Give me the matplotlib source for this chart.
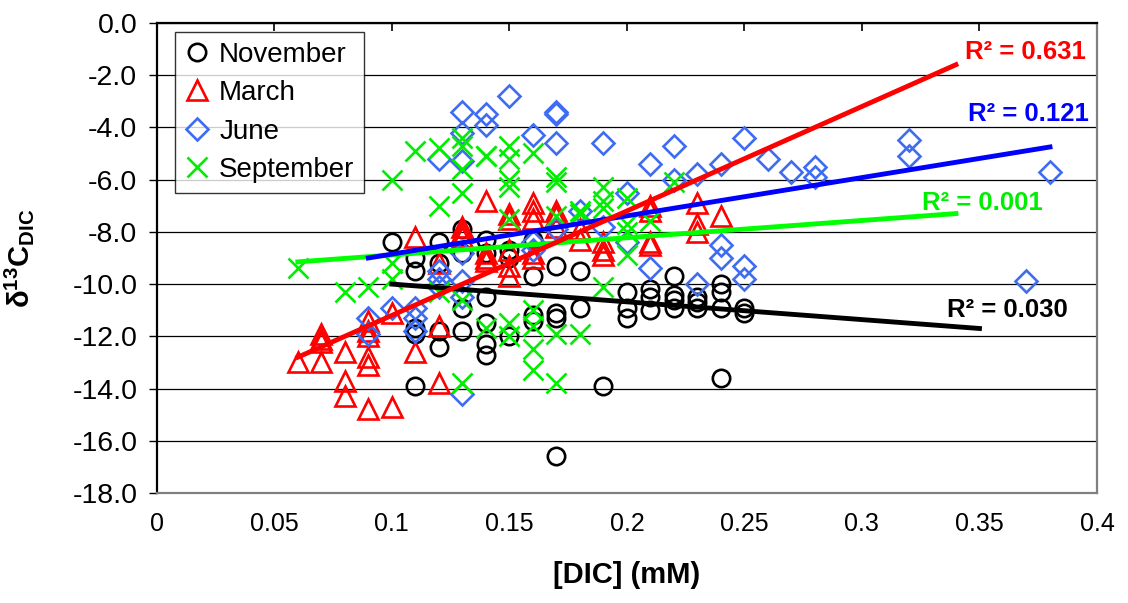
import numpy as np
import matplotlib.pyplot as plt

plt.rcParams['font.family'] = ['Liberation Sans', 'DejaVu Sans']
plt.rcParams['mathtext.fontset'] = 'custom'
plt.rcParams['mathtext.rm'] = 'Liberation Sans'
plt.rcParams['mathtext.bf'] = 'Liberation Sans:bold'

# données
nov_x = [0.10,
         0.11, 0.11, 0.11, 0.11, 0.11,
         0.12, 0.12, 0.12, 0.12,
         0.13, 0.13, 0.13, 0.13,
         0.14, 0.14, 0.14, 0.14, 0.14, 0.14,
         0.15, 0.15, 0.15,
         0.16, 0.16, 0.16, 0.16,
         0.17, 0.17, 0.17, 0.17,
         0.18, 0.18,
         0.19,
         0.20, 0.20, 0.20,
         0.21, 0.21, 0.21,
         0.22, 0.22, 0.22, 0.22,
         0.23, 0.23, 0.23,
         0.24, 0.24, 0.24, 0.24,
         0.25, 0.25]
nov_y = [-8.4,
         -9.0, -9.5, -11.7, -11.9, -13.9,
         -8.4, -9.2, -11.8, -12.4,
         -7.9, -8.8, -10.9, -11.8,
         -8.3, -8.8, -10.5, -11.5, -12.3, -12.7,
         -8.7, -9.0, -12.0,
         -8.3, -9.7, -11.2, -11.4,
         -9.3, -11.1, -11.3, -16.6,
         -9.5, -10.9,
         -13.9,
         -10.3, -10.9, -11.3,
         -10.2, -10.5, -11.0,
         -9.7, -10.4, -10.6, -10.9,
         -10.5, -10.7, -10.9,
         -10.0, -10.3, -10.9, -13.6,
         -10.9, -11.1]

mar_x = [0.06,
         0.07, 0.07, 0.07, 0.07,
         0.08, 0.08, 0.08,
         0.09, 0.09, 0.09, 0.09, 0.09, 0.09,
         0.10, 0.10,
         0.11, 0.11,
         0.12, 0.12, 0.12,
         0.13, 0.13, 0.13,
         0.14, 0.14, 0.14, 0.14,
         0.15, 0.15, 0.15, 0.15, 0.15,
         0.16, 0.16, 0.16, 0.16, 0.16,
         0.17, 0.17, 0.17,
         0.18, 0.18,
         0.19, 0.19, 0.19,
         0.21, 0.21, 0.21, 0.21,
         0.23, 0.23, 0.23,
         0.24]
mar_y = [-13.0,
         -11.9, -12.1, -12.2, -13.0,
         -12.6, -13.7, -14.3,
         -11.4, -11.8, -12.0, -12.8, -13.1, -14.8,
         -11.1, -14.7,
         -8.2, -12.6,
         -9.2, -11.6, -13.8,
         -7.8, -8.0, -8.2,
         -6.8, -8.8, -9.0, -9.1,
         -7.3, -7.5, -8.7, -9.3, -9.7,
         -6.9, -7.2, -7.5, -8.8, -9.0,
         -7.2, -7.4, -7.8,
         -7.9, -8.3,
         -8.4, -8.7, -8.9,
         -7.0, -7.2, -8.4, -8.5,
         -6.9, -7.7, -8.0,
         -7.4]

jun_x = [0.09, 0.09,
         0.10,
         0.11, 0.11, 0.11,
         0.12, 0.12, 0.12, 0.12,
         0.13, 0.13, 0.13, 0.13, 0.13, 0.13, 0.13,
         0.14, 0.14,
         0.15,
         0.16, 0.16, 0.16,
         0.17, 0.17, 0.17, 0.17,
         0.18,
         0.19, 0.19,
         0.20, 0.20,
         0.21, 0.21,
         0.22, 0.22,
         0.23, 0.23,
         0.24, 0.24, 0.24,
         0.25, 0.25, 0.25,
         0.26, 0.27, 0.28, 0.28,
         0.32, 0.32, 0.37, 0.38]
jun_y = [-11.3, -11.9,
         -10.9,
         -10.9, -11.3, -11.8,
         -5.2, -9.5, -9.8, -10.1,
         -3.4, -4.2, -5.3, -8.8, -9.9, -10.5, -14.2,
         -3.5, -3.9,
         -2.8,
         -4.3, -8.4, -8.7,
         -3.4, -3.5, -4.6, -7.9,
         -7.2,
         -4.6, -7.8,
         -6.5, -8.4,
         -5.4, -9.4,
         -4.7, -6.0,
         -5.8, -10.0,
         -5.4, -8.5, -9.0,
         -4.4, -9.3, -9.8,
         -5.2, -5.7, -5.5, -5.9,
         -4.5, -5.1, -9.9, -5.7]

sep_x = [0.06, 0.08, 0.09,
         0.10, 0.10, 0.10,
         0.11,
         0.12, 0.12, 0.12,
         0.13, 0.13, 0.13, 0.13, 0.13, 0.13,
         0.14, 0.14, 0.14,
         0.15, 0.15, 0.15, 0.15, 0.15, 0.15, 0.15,
         0.16, 0.16, 0.16, 0.16, 0.16,
         0.17, 0.17, 0.17, 0.17, 0.17,
         0.18, 0.18, 0.18,
         0.19, 0.19, 0.19, 0.19,
         0.20, 0.20, 0.20, 0.20,
         0.21, 0.22]
sep_y = [-9.4, -10.3, -10.1,
         -6.0, -9.2, -9.8,
         -4.9,
         -4.8, -7.0, -10.3,
         -4.4, -4.7, -5.6, -6.5, -10.6, -13.8,
         -5.1, -5.1, -11.7,
         -4.7, -5.2, -6.0, -6.3, -7.5, -11.5, -12.0,
         -5.0, -11.0, -11.6, -12.5, -13.3,
         -5.9, -6.1, -7.4, -11.9, -13.8,
         -7.2, -7.3, -11.9,
         -6.3, -6.8, -7.1, -10.1,
         -6.7, -7.7, -8.0, -8.9,
         -7.6, -6.1]

# droites de tendance (extrémités) et R²
fit_nov = ([0.10, 0.35], [-10.0, -11.7])
fit_mar = ([0.06, 0.34], [-12.8, -1.6])
fit_jun = ([0.09, 0.38], [-9.0, -4.75])
fit_sep = ([0.06, 0.34], [-9.15, -7.3])
r2_labels = ["R² = 0.030", "R² = 0.631", "R² = 0.121", "R² = 0.001"]
r2_pos = [(0.336, -11.0), (0.344, -1.1), (0.345, -3.5), (0.3255, -6.9)]

c_nov = 'black'
c_mar = '#ff0000'
c_jun = '#3f6cf0'
c_sep = '#00ee00'

fig = plt.figure(figsize=(11.28, 6.03), dpi=100)
ax = fig.add_axes([0.139, 0.1824, 0.8335, 0.7796])

mw = 1.9
ax.plot(nov_x, nov_y, 'o', ms=12.5, mfc='none', mec=c_nov, mew=mw, label='November')
ax.plot(mar_x, mar_y, '^', ms=15, mfc='none', mec=c_mar, mew=mw, label='March')
ax.plot(jun_x, jun_y, 'D', ms=11.5, mfc='none', mec=c_jun, mew=mw, label='June')
ax.plot(sep_x, sep_y, 'x', ms=15, mfc='none', mec=c_sep, mew=mw, label='September')

ax.plot(*fit_nov, color='black', lw=3.5)
ax.plot(*fit_sep, color='#00ff00', lw=3.5)
ax.plot(*fit_jun, color='#0000ff', lw=3.5)
ax.plot(*fit_mar, color='#ff0000', lw=3.5)

for lab, pos, col in zip(r2_labels, r2_pos, ['black', '#ff0000', '#0000ff', '#00ee00']):
    ax.text(pos[0], pos[1], lab, color=col, fontsize=18.5, fontweight='bold', va='center', ha='left')

ax.set_xlim(0, 0.4)
ax.set_ylim(-18, 0)
xt = np.arange(0, 0.401, 0.05)
ax.set_xticks(xt)
ax.set_xticklabels(['0', '0.05', '0.1', '0.15', '0.2', '0.25', '0.3', '0.35', '0.4'], fontsize=18)
yt = np.arange(-18, 0.1, 2)
ax.set_yticks(yt)
ax.set_yticklabels(['%.1f' % v if v != 0 else '0.0' for v in yt], fontsize=20.5)

ax.yaxis.grid(True, color='black', lw=0.9)
ax.set_axisbelow(True)

ax.tick_params(axis='x', top=True, bottom=False, labeltop=False, labelbottom=True,
               direction='in', length=6, width=1.2, pad=14)
ax.tick_params(axis='y', direction='out', length=6, width=1, pad=8)

ax.spines['top'].set_color('black')
ax.spines['left'].set_color('black')
ax.spines['right'].set_color('#808080')
ax.spines['bottom'].set_color('#808080')
for s in ax.spines.values():
    s.set_linewidth(1.6)

ax.set_xlabel('[DIC] (mM)', fontsize=21, fontweight='bold')
ax.xaxis.set_label_coords(0.5, -0.145)
ax.set_ylabel(r'δ$^{\mathbf{13}}$C$_{\mathbf{DIC}}$', fontsize=21, fontweight='bold')
ax.yaxis.set_label_coords(-0.128, 0.5)

leg = ax.legend(loc='upper left', bbox_to_anchor=(0.019, 0.981), borderaxespad=0,
                fontsize=20, frameon=True, fancybox=False, edgecolor='black',
                handlelength=0.9, handletextpad=0.35, labelspacing=0.45, borderpad=0.35)
leg.get_frame().set_linewidth(1.0)

plt.savefig('out.png', dpi=100)
